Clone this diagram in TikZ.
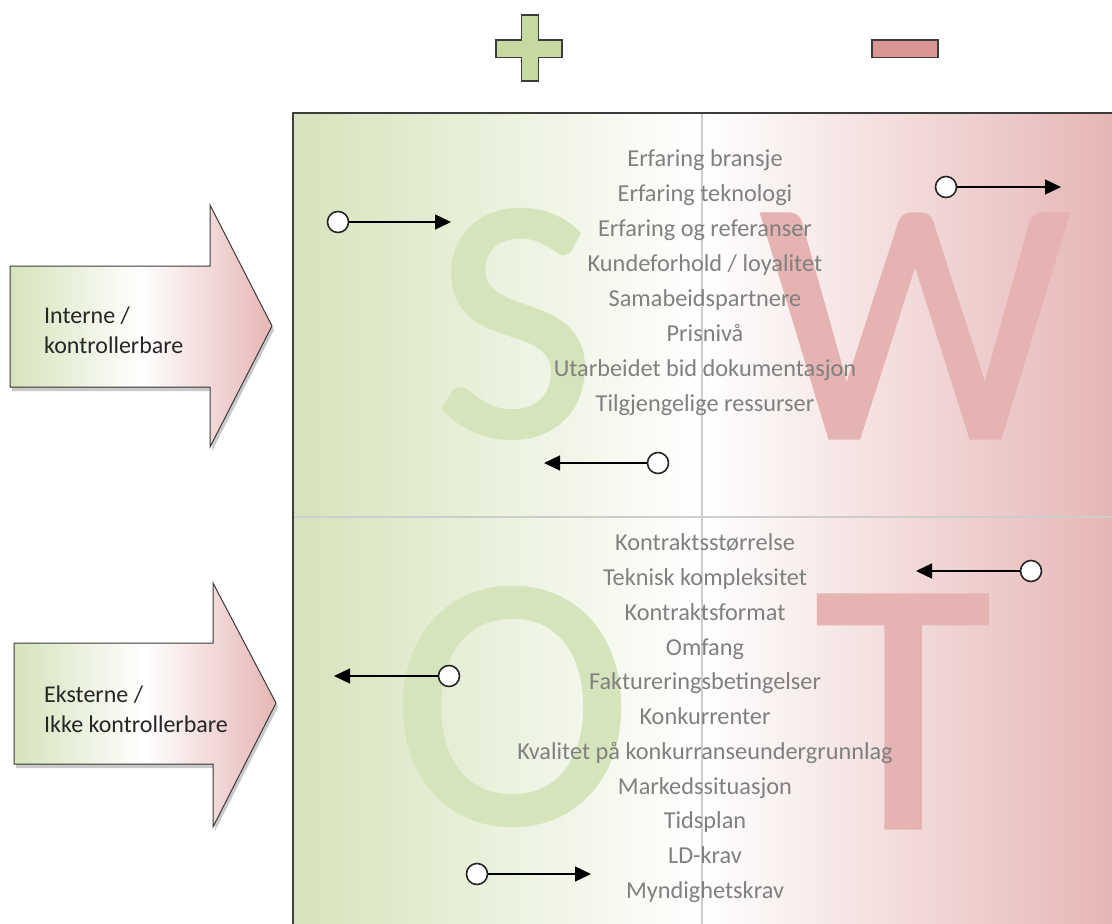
\documentclass[tikz,border=0pt]{standalone}
\usepackage{fontspec}
\setmainfont{Carlito}
\newfontfamily\swotfont[FakeBold=1.5]{Carlito}
\usetikzlibrary{arrows.meta,shadows}

\definecolor{plusgreen}{RGB}{197,217,160}
\definecolor{minusred}{RGB}{218,150,148}
\definecolor{swotgreen}{RGB}{214,227,187}
\definecolor{swotred}{RGB}{230,182,181}
\definecolor{lettergreen}{RGB}{214,228,188}
\definecolor{letterred}{RGB}{229,179,178}
\definecolor{listgray}{RGB}{128,128,128}
\definecolor{framegray}{RGB}{60,60,60}
\definecolor{splitgray}{RGB}{205,205,205}

\tikzset{
    dot/.style={circle, draw=black!85, fill=white, line width=1.6pt, minimum size=21pt, inner sep=0pt},
    conn/.style={line width=1.3pt, -{Triangle[length=16pt,width=15pt]}},
    item/.style={text=listgray, font=\fontsize{24.3}{24}\selectfont, anchor=base, inner sep=0pt},
    bigletter/.style={anchor=base, inner sep=0pt},
    sidetext/.style={anchor=west, align=left, text=black!85, font=\fontsize{24}{30}\selectfont, inner sep=0pt},
    blockarrow/.style={draw=framegray, line width=1pt, left color=swotgreen, right color=swotred, middle color=white,
        drop shadow={shadow xshift=2pt, shadow yshift=-4pt, opacity=.3, fill=black!70}},
}

\begin{document}
\begin{tikzpicture}[x=1pt,y=-1pt]
                    \useasboundingbox (0,0) rectangle (1112,924);
                    % plus and minus
                    \filldraw[fill=plusgreen, draw=framegray, line width=1.5pt] (521.5,15) -- (538.5,15) -- (538.5,40) -- (562,40) -- (562,57.5) -- (538.5,57.5) -- (538.5,81) -- (521.5,81) -- (521.5,57.5) -- (496,57.5) -- (496,40) -- (521.5,40) -- cycle;
                    \filldraw[fill=minusred, draw=framegray, line width=1.5pt] (872,40) rectangle (938,57.5);

                    % the SWOT field
                    \shade[left color=swotgreen, right color=swotred, middle color=white] (293,113) rectangle (1112,924);
                    \node[bigletter, text=lettergreen, font=\swotfont\fontsize{346}{346}\selectfont] (bigS) at (515,435) {S};
                    \node[bigletter, text=letterred, font=\swotfont\fontsize{346}{346}\selectfont] (bigW) at (915,437) {W};
                    \node[bigletter, text=lettergreen, font=\swotfont\fontsize{360}{360}\selectfont] (bigO) at (512,822) {O};
                    \node[bigletter, text=letterred, font=\swotfont\fontsize{360}{360}\selectfont] (bigT) at (903,827) {T};
                    \draw[splitgray, line width=1.2pt] (702,113) -- (702,924);
                    \draw[splitgray, line width=1.2pt] (293,517) -- (1112,517);
                    \draw[framegray, line width=1.5pt] (1112,113) -- (293,113) -- (293,924);

        \node[item] (s1) at (705,166) {Erfaring bransje};
        \node[item] (s2) at (705,201) {Erfaring teknologi};
        \node[item] (s3) at (705,236) {Erfaring og referanser};
        \node[item] (s4) at (705,271) {Kundeforhold / loyalitet};
        \node[item] (s5) at (705,306) {Samabeidspartnere};
        \node[item] (s6) at (705,341) {Prisnivå};
        \node[item] (s7) at (705,376) {Utarbeidet bid dokumentasjon};
        \node[item] (s8) at (705,411) {Tilgjengelige ressurser};

        \node[item] (o1) at (705,550) {Kontraktsstørrelse};
        \node[item] (o2) at (705,585) {Teknisk kompleksitet};
        \node[item] (o3) at (705,620) {Kontraktsformat};
        \node[item] (o4) at (705,655) {Omfang};
        \node[item] (o5) at (705,689) {Faktureringsbetingelser};
        \node[item] (o6) at (705,724) {Konkurrenter};
        \node[item] (o7) at (705,759) {Kvalitet på konkurranseundergrunnlag};
        \node[item] (o8) at (705,794) {Markedssituasjon};
        \node[item] (o9) at (705,828) {Tidsplan};
        \node[item] (o10) at (705,863) {LD-krav};
        \node[item] (o11) at (705,898) {Myndighetskrav};

                    % moves
                    \node[dot] (d1) at (338,222) {};
                    \coordinate (e1) at (451,222);
                    \draw[conn] (d1) -- (e1);
                    \node[dot] (d2) at (946,187) {};
                    \coordinate (e2) at (1061,187);
                    \draw[conn] (d2) -- (e2);
                    \node[dot] (d3) at (658,463) {};
                    \coordinate (e3) at (544,463);
                    \draw[conn] (d3) -- (e3);
                    \node[dot] (d4) at (1031,571) {};
                    \coordinate (e4) at (916,571);
                    \draw[conn] (d4) -- (e4);
                    \node[dot] (d5) at (449,676) {};
                    \coordinate (e5) at (334,676);
                    \draw[conn] (d5) -- (e5);
                    \node[dot] (d6) at (477,874) {};
                    \coordinate (e6) at (591,874);
                    \draw[conn] (d6) -- (e6);

        % block arrows on the left
        \filldraw[blockarrow] (10,266) -- (210,266) -- (210,205) -- (272,326) -- (210,447) -- (210,387) -- (10,387) -- cycle;
        \node[sidetext] (intern) at (44,330) {Interne /\\kontrollerbare};
        \filldraw[blockarrow] (14,643) -- (213,643) -- (213,583) -- (276,703) -- (213,827) -- (213,764) -- (14,764) -- cycle;
        \node[sidetext] (extern) at (44,709) {Eksterne /\\Ikke kontrollerbare};
\end{tikzpicture}
\end{document}
